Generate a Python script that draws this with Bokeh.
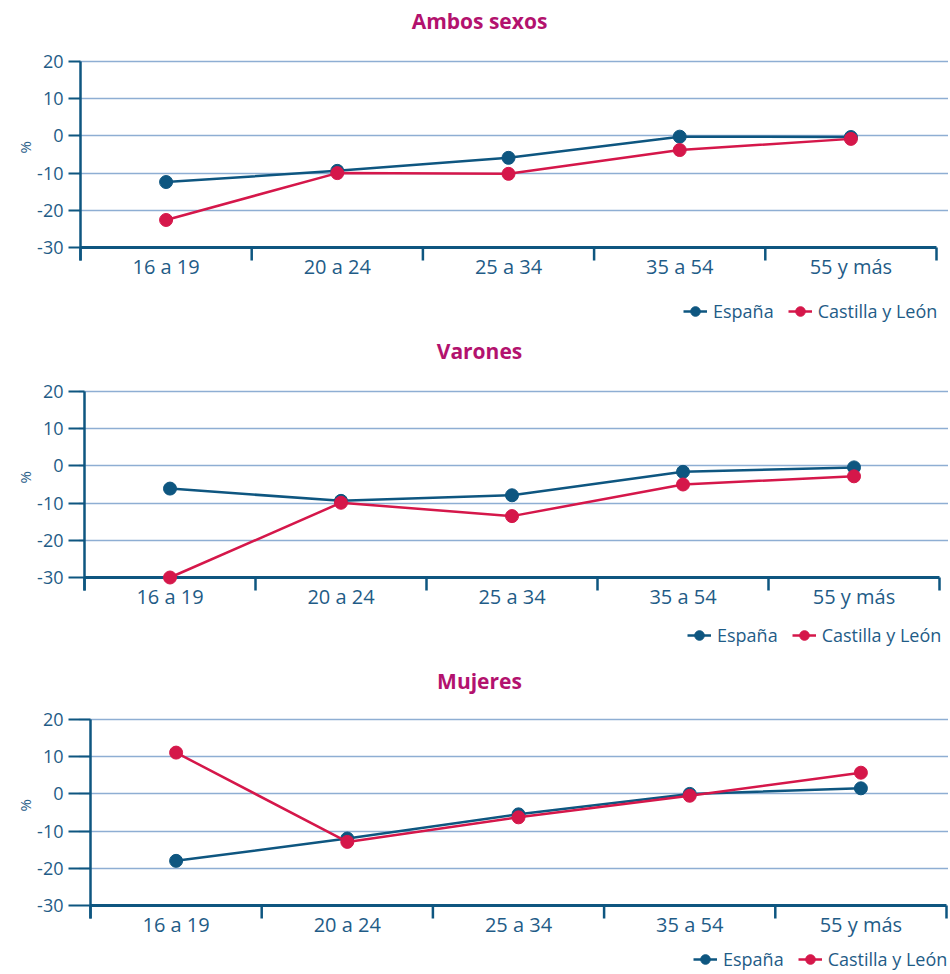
from bokeh.plotting import figure
from bokeh.layouts import column
from bokeh.models import FixedTicker, Legend, LegendItem, Range1d, Title
from bokeh.core.properties import value
from bokeh.embed import file_html
from bokeh.resources import INLINE

# ---------------- data ----------------
categories = ["16 a 19", "20 a 24", "25 a 34", "35 a 54", "55 y más"]
series_names = ["España", "Castilla y León"]
panel_titles = ["Ambos sexos", "Varones", "Mujeres"]
y_ticks = [20, 10, 0, -10, -20, -30]
y_tick_labels = ["20", "10", "0", "-10", "-20", "-30"]
grid_ticks = [20, 10, 0, -10, -20]

espana_ambos = [-12.4, -9.4, -5.9, -0.2, -0.3]
cyl_ambos = [-22.6, -10.0, -10.2, -3.8, -0.8]

espana_varones = [-6.1, -9.4, -7.9, -1.6, -0.4]
cyl_varones = [-30.0, -9.9, -13.5, -5.0, -2.8]

espana_mujeres = [-18.0, -12.0, -5.5, 0.0, 1.5]
cyl_mujeres = [11.1, -12.9, -6.3, -0.5, 5.7]

# ---------------- style ----------------
NAVY = "#0e5680"
RED = "#d5174a"
TEXT = "#1f5c87"
TITLE_C = "#b3126e"
GRID = "#8eaed3"
FONT = "Open Sans"
PX_Y = 3.72          # pixels per % unit
FIG_W = 948
FRAME_L = 78         # common frame left (column aligns the borders)
FRAME_R = 948        # common frame right

# per-panel geometry (pixels, relative to each figure's top-left corner)
layout_cfg = [
    dict(fig_h=330, y20=61, fbot=323, axis_x=80, axis_r=936, title_y=20, pct_off=170, leg_r=936),
    dict(fig_h=330, y20=61, fbot=317, axis_x=84, axis_r=939, title_y=20, pct_off=164, leg_r=940),
    dict(fig_h=312, y20=59, fbot=311, axis_x=90, axis_r=946, title_y=20, pct_off=160, leg_r=946),
]
TITLE_X = 479        # title centre, px from figure left
LABEL_DY = 19        # category labels centre, px below the -30 line
TICK_LEN = 13        # boundary tick length, px
LEG_W = 253          # approximate legend width, px


def make_panel(title, esp, cyl, cfg):
    n = len(categories)
    xs = list(range(n))
    px_x = (cfg["axis_r"] - cfg["axis_x"]) / n
    y_top = y_ticks[0] + cfg["y20"] / PX_Y
    y_bot = y_ticks[0] - (cfg["fbot"] - cfg["y20"]) / PX_Y
    y_min = y_ticks[-1]
    tick_end = y_min - TICK_LEN / PX_Y

    p = figure(width=FIG_W, height=cfg["fig_h"],
               x_range=Range1d(-0.5 - (cfg["axis_x"] - FRAME_L) / px_x,
                               n - 0.5 + (FRAME_R - cfg["axis_r"]) / px_x),
               y_range=Range1d(y_bot, y_top),
               output_backend="svg", toolbar_location=None,
               min_border_left=FRAME_L,
               min_border_right=FIG_W - FRAME_R,
               min_border_top=0,
               min_border_bottom=int(cfg["fig_h"] - cfg["fbot"]))
    p.outline_line_color = None
    p.background_fill_color = "white"
    p.border_fill_color = "white"

    # grid
    p.xgrid.visible = False
    p.ygrid.ticker = FixedTicker(ticks=grid_ticks)
    p.ygrid.grid_line_color = GRID
    p.ygrid.grid_line_width = 1.5

    # y axis (ticks + labels); axis line drawn below as a segment
    yax = p.yaxis[0]
    yax.ticker = FixedTicker(ticks=y_ticks)
    yax.major_label_overrides = dict(zip(y_ticks, y_tick_labels))
    yax.axis_line_color = None
    yax.major_tick_line_color = NAVY
    yax.major_tick_line_width = 2
    yax.major_tick_out = 10
    yax.major_tick_in = int(cfg["axis_x"] - FRAME_L)
    yax.minor_tick_line_color = None
    yax.major_label_standoff = 5
    yax.major_label_text_font = FONT
    yax.major_label_text_font_size = "18px"
    yax.major_label_text_color = TEXT

    pct = Title(text="%", align="left", offset=cfg["pct_off"], standoff=0,
                text_font=FONT, text_font_size="15px", text_font_style="normal",
                text_color=TEXT)
    p.add_layout(pct, "left")

    p.xaxis.visible = False

    # axis lines and category boundary ticks
    p.segment(x0=[-0.5], y0=[tick_end], x1=[-0.5], y1=[y_ticks[0]],
              line_color=NAVY, line_width=2.5)
    p.segment(x0=[-0.5], y0=[y_min], x1=[n - 0.5], y1=[y_min],
              line_color=NAVY, line_width=3)
    bx = [i - 0.5 for i in range(n + 1)]
    p.segment(x0=bx, y0=[y_min] * len(bx), x1=bx, y1=[tick_end] * len(bx),
              line_color=NAVY, line_width=2.5)

    # category labels
    p.text(x=xs, y=[y_min - LABEL_DY / PX_Y] * n, text=categories,
           text_align="center", text_baseline="middle",
           text_font=value(FONT), text_font_size="20px", text_color=TEXT)

    # title
    p.text(x=[-0.5 + (TITLE_X - cfg["axis_x"]) / px_x],
           y=[y_ticks[0] + (cfg["y20"] - cfg["title_y"]) / PX_Y],
           text=[title], text_align="center", text_baseline="middle",
           text_font=value(FONT), text_font_size="21px", text_font_style="bold",
           text_color=TITLE_C)

    # series
    l1 = p.line(xs, esp, line_color=NAVY, line_width=2.5)
    s1 = p.scatter(xs, esp, size=13, fill_color=NAVY, line_color=NAVY)
    l2 = p.line(xs, cyl, line_color=RED, line_width=2.5)
    s2 = p.scatter(xs, cyl, size=13, fill_color=RED, line_color=RED)

    leg = Legend(items=[LegendItem(label=series_names[0], renderers=[l1, s1]),
                        LegendItem(label=series_names[1], renderers=[l2, s2])],
                 orientation="horizontal",
                 location=(int(cfg["leg_r"] - LEG_W - FRAME_L), 0),
                 padding=0, margin=0, spacing=14, label_standoff=6,
                 glyph_width=24, glyph_height=24,
                 label_text_font=FONT, label_text_font_size="18px",
                 label_text_color=TEXT,
                 border_line_color=None, background_fill_color=None)
    p.add_layout(leg)
    return p


panels = [
    make_panel(panel_titles[0], espana_ambos, cyl_ambos, layout_cfg[0]),
    make_panel(panel_titles[1], espana_varones, cyl_varones, layout_cfg[1]),
    make_panel(panel_titles[2], espana_mujeres, cyl_mujeres, layout_cfg[2]),
]

page = column(*panels, spacing=0)
open("out.html", "w").write(file_html(page, INLINE))
